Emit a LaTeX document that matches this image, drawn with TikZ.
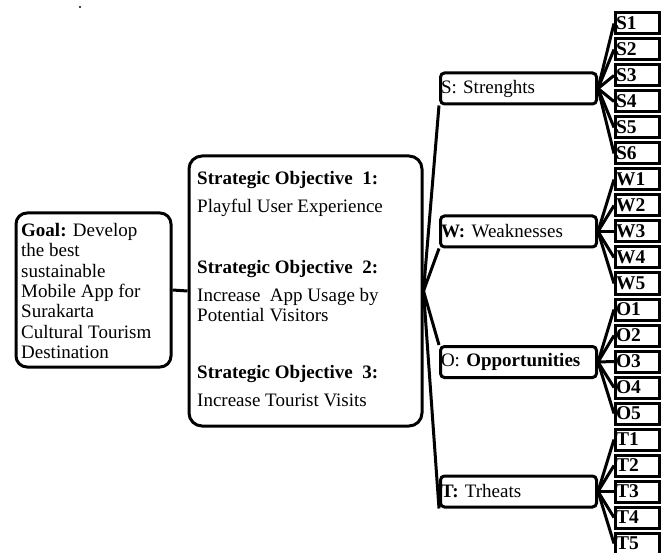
\documentclass[tikz,border=0pt]{standalone}
\usepackage{fontspec}
\setmainfont{Liberation Serif}

\begin{document}
\begin{tikzpicture}[x=1pt,y=-1pt,
		txt/.style={font=\fontsize{19}{20.3}\selectfont},
		goalbox/.style={draw, line width=3pt, rounded corners=11pt, minimum width=155pt, minimum height=154pt, inner sep=0pt},
		objbox/.style={draw, line width=3pt, rounded corners=13pt, minimum width=233pt, minimum height=270pt, inner sep=0pt},
		catbox/.style={draw, txt, line width=3pt, rounded corners=4pt, minimum height=31pt, text width=155pt, align=left, inner xsep=0.5pt, inner ysep=0pt},
		itembox/.style={draw, txt, line width=3pt, minimum height=21pt, text width=43pt, align=left, inner xsep=0.5pt, inner ysep=0pt, font=\fontsize{19.5}{20.3}\selectfont\bfseries},
		link/.style={line width=3pt}]
					\useasboundingbox (0,0) rectangle (669,553);
					\fill (80,7) circle (1.2pt);
					\node[goalbox] (goal) at (93.5,290) {};
					\node[txt, anchor=west, align=left, inner sep=0pt] (goaltxt) at (21,291)
						{\textbf{Goal:} Develop\\the best\\sustainable\\Mobile App for\\Surakarta\\Cultural Tourism\\Destination};
					\node[objbox] (obj) at (305.5,291) {};
					\node[txt, anchor=west, align=left, inner sep=0pt] (so1) at (197,194)
						{\textbf{Strategic Objective\ \ 1:}\\[7.7pt]Playful User Experience};
					\node[txt, anchor=west, align=left, inner sep=0pt] (so2) at (197,291)
						{\textbf{Strategic Objective\ \ 2:}\\[7.7pt]Increase\ \ App Usage by\\Potential Visitors};
					\node[txt, anchor=west, align=left, inner sep=0pt] (so3) at (197,386)
						{\textbf{Strategic Objective\ \ 3:}\\[7.7pt]Increase Tourist\ Visits};
					\node[catbox] (S) at (518.5,88.5) {S: Strenghts};
					\node[catbox] (W) at (518.5,231.5) {\textbf{W:} Weaknesses};
					\node[catbox] (O) at (518.5,362) {O: \textbf{Opportunities}};
					\node[catbox] (T) at (518.5,491.5) {\textbf{T:} Trheats};
					\draw[link] (goal.east) -- (obj.west);
					\draw[link] (obj.east) -- (S.south west);
					\draw[link] (obj.east) -- (W.south west);
					\draw[link] (obj.east) -- (O.north west);
					\draw[link] (obj.east) -- (T.south west);
					\foreach \c/\n/\first in {S/6/0, W/5/6, O/5/11, T/5/16}{
						\foreach \k in {1,...,\n}{
							\pgfmathsetmacro{\yy}{23.5+26*(\first+\k-1)}
							\node[itembox] (\c\k) at (637.5,\yy) {\c\k};
							\draw[link] (\c.east) -- (\c\k.west);
						}
					}
				\end{tikzpicture}
\end{document}
